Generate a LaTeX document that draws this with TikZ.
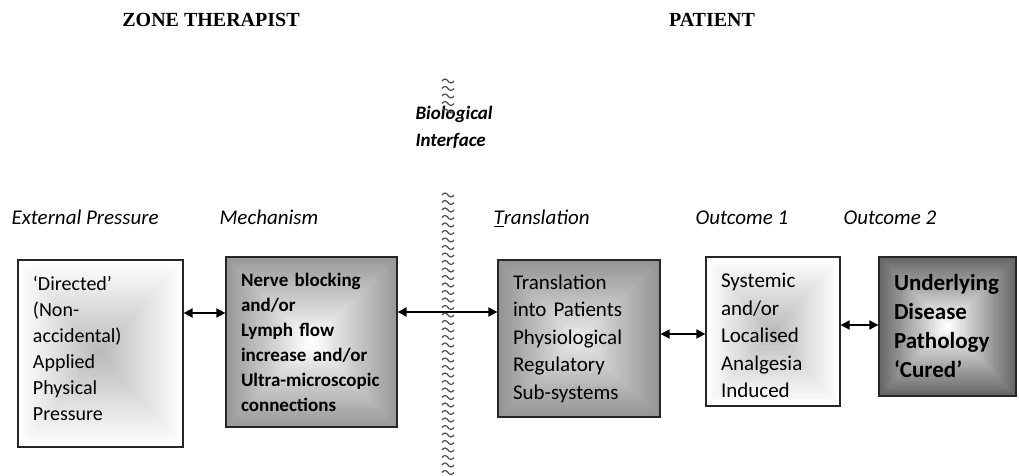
\documentclass[tikz,border=0pt]{standalone}
\usepackage{fontspec}
\setmainfont{Carlito}
\newfontfamily\headfont{Liberation Serif}
\usetikzlibrary{arrows.meta,backgrounds}

% edge / centre colours of the rectangular gradients
\colorlet{eA}{white}    \colorlet{cA}{black!27}
\colorlet{eB}{black!40} \colorlet{cB}{white}
\colorlet{eC}{black!42} \colorlet{cC}{black!8}
\colorlet{eD}{white}    \colorlet{cD}{black!27}
\colorlet{eE}{black!60} \colorlet{cE}{white}

% rectangular gradient: nested rectangles round centre (#1,#2) with half sizes #3, #4,
% blending from the edge colour #5 to the centre colour #6
\newcommand\gradfill[6]{%
  \foreach \i in {0,...,44} {
    \pgfmathsetmacro\gs{1-\i/45}
    \pgfmathtruncatemacro\gp{100*\i/44}
    \fill[#6!\gp!#5] ({#1-#3*\gs},{#2-#4*\gs}) rectangle ({#1+#3*\gs},{#2+#4*\gs});
  }}

\tikzset{
  box/.style={draw=black!85, line width=1.2bp, inner xsep=15bp, inner ysep=0pt, align=left},
  head/.style={anchor=base, font=\headfont\bfseries\fontsize{20bp}{24bp}\selectfont},
  stage/.style={anchor=base west, font=\itshape\fontsize{21bp}{26bp}\selectfont},
  dbl/.style={line width=1.8bp, {Triangle[length=9bp,width=9bp]}-{Triangle[length=9bp,width=9bp]}},
  tilde/.style={draw=black!70, line width=1.2bp},
}

\begin{document}
\begin{tikzpicture}[x=1bp,y=1bp]
\useasboundingbox (0,0) rectangle (1019,-476);

% column headings
\node[head] (hz) at (211,-27) {ZONE THERAPIST};
\node[head] (hp) at (712,-27) {PATIENT};

% stage labels
\node[stage] (l1) at (8,-225) {External Pressure};
\node[stage] (l2) at (216,-225) {Mechanism};
\node[stage] (l3) at (490,-225) {\underline{T}ranslation};
\node[stage] (l4) at (692,-225) {Outcome 1};
\node[stage] (l5) at (840,-225) {Outcome 2};

\node[anchor=base west, align=left, font=\bfseries\itshape\fontsize{19bp}{27bp}\selectfont]
  (bi) at (412,-147) {Biological\\Interface};

% the five stages
\node[box, minimum width=165bp, minimum height=187bp, text width=135bp,
      font=\fontsize{20bp}{26bp}\selectfont] (b1) at (100.5,-353.5)
  {‘Directed’\\(Non-\\accidental)\\Applied\\Physical\\Pressure\rule[-10bp]{0pt}{0pt}};
\node[box, minimum width=171bp, minimum height=170bp, text width=141bp,
      font=\bfseries\fontsize{19bp}{25bp}\selectfont] (b2) at (311.5,-342)
  {Nerve blocking\\and/or\\Lymph flow\\increase and/or\\Ultra-microscopic\\connections};
\node[box, minimum width=162bp, minimum height=157bp, text width=132bp,
      font=\fontsize{21bp}{27.5bp}\selectfont] (b3) at (579,-338.5)
  {Translation\\into Patients\\Physiological\\Regulatory\\Sub-systems};
\node[box, minimum width=134bp, minimum height=149bp, text width=104bp,
      inner xsep=14bp, font=\fontsize{21bp}{27.5bp}\selectfont] (b4) at (773,-331.5)
  {\rule{0pt}{23bp}Systemic\\and/or\\Localised\\Analgesia\\Induced};
\node[box, minimum width=137bp, minimum height=139bp, text width=107bp,
      font=\bfseries\fontsize{23bp}{29bp}\selectfont] (b5) at (947.5,-326.5)
  {Underlying\\Disease\\Pathology\\‘Cured’};

% gradient fills behind the boxes
\begin{scope}[on background layer]
  \fill[white] (0,0) rectangle (1019,-476);
  \gradfill{100.5}{-353.5}{82.5}{93.5}{eA}{cA}
  \gradfill{311.5}{-342}{85.5}{85}{eB}{cB}
  \gradfill{579}{-338.5}{81}{78.5}{eC}{cC}
  \gradfill{773}{-331.5}{67}{74.5}{eD}{cD}
  \gradfill{947.5}{-326.5}{68.5}{69.5}{eE}{cE}
\end{scope}

% connector heights
\coordinate (r1) at (0,-313);
\coordinate (r2) at (0,-312);
\coordinate (r3) at (0,-334);
\coordinate (r4) at (0,-325);

\draw[dbl] (b1.east |- r1) -- (b2.west |- r1);
\draw[dbl] (b2.east |- r2) -- (b3.west |- r2);
\draw[dbl] (b3.east |- r3) -- (b4.west |- r3);
\draw[dbl] (b4.east |- r4) -- (b5.west |- r4);

% wavy interface line
\foreach \y in {81,88.5,...,116}
  \draw[tilde] (442,-\y) sin (445,-\y+2) cos (448,-\y) sin (451,-\y-2) cos (454,-\y);
\foreach \y in {195,202.5,...,476}
  \draw[tilde] (442,-\y) sin (445,-\y+2) cos (448,-\y) sin (451,-\y-2) cos (454,-\y);
\end{tikzpicture}
\end{document}
